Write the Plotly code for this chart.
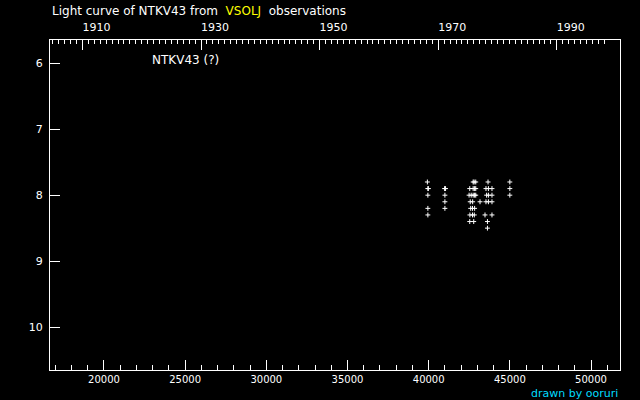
import pandas as pd
import plotly.graph_objects as go

# JD - 2400000 and visual magnitude of each VSOLJ estimate
jd_days = [
    39920, 39950, 39980, 39950, 39950, 39950,
    40980, 41040, 41000, 41000, 41000,
    42740, 42800, 42900,
    42530, 42740, 42830, 42900,
    42490, 42620, 42740, 42830, 42900,
    42560, 42710, 43163,
    42590, 42700, 42830,
    42540, 42700, 42810,
    42530, 42775,
    43656,
    43530, 43680, 43900,
    43570, 43680, 43900,
    43530, 43680, 43900,
    43470, 43900,
    43620,
    43620,
    45000, 45000, 45000,
]
magnitudes = [
    7.8, 7.9, 7.9, 8.0, 8.2, 8.3,
    7.9, 7.9, 8.0, 8.1, 8.2,
    7.8, 7.8, 7.8,
    7.9, 7.9, 7.9, 7.9,
    8.0, 8.0, 8.0, 8.0, 8.0,
    8.1, 8.1, 8.1,
    8.2, 8.2, 8.2,
    8.3, 8.3, 8.3,
    8.4, 8.4,
    7.8,
    7.9, 7.9, 7.9,
    8.0, 8.0, 8.0,
    8.1, 8.1, 8.1,
    8.3, 8.3,
    8.4,
    8.5,
    7.8, 7.9, 8.0,
]

jd_ticks = [20000, 25000, 30000, 35000, 40000, 45000, 50000]
mag_ticks = [6, 7, 8, 9, 10]
decades = [1910, 1920, 1930, 1940, 1950, 1960, 1970, 1980, 1990]
labelled_years = [1910, 1930, 1950, 1970, 1990]
years = list(range(1903, 1999))

jd_range = [16674, 51786]
mag_range = [10.652, 5.646]


def year_to_jd(year):
    return pd.Timestamp(year=year, month=1, day=1).to_julian_date() - 2400000


font = "DejaVu Sans"
fig = go.Figure()
fig.add_trace(
    go.Scatter(
        x=jd_days,
        y=magnitudes,
        mode="markers",
        marker=dict(symbol="cross-thin", size=3.5, color="white", line=dict(color="white", width=1)),
        showlegend=False,
    )
)
# invisible trace so the year axis is drawn
fig.add_trace(go.Scatter(x=jd_range, y=[8, 8], xaxis="x2", mode="lines", line=dict(width=0), showlegend=False, hoverinfo="skip"))

axis_common = dict(showgrid=False, zeroline=False, showline=True, linecolor="white", linewidth=1,
                   tickcolor="white", tickfont=dict(family=font, size=11, color="white"))
fig.update_layout(
    width=640,
    height=400,
    margin=dict(l=50, r=20, t=40, b=30),
    paper_bgcolor="black",
    plot_bgcolor="black",
    xaxis=dict(
        **axis_common,
        range=jd_range,
        tickmode="array",
        tickvals=jd_ticks,
        ticktext=[str(v) for v in jd_ticks],
        ticks="inside",
        ticklen=10,
        mirror=False,
        ticklabelstandoff=0,
        minor=dict(dtick=1000, tick0=0, ticks="inside", ticklen=5, tickcolor="white"),
    ),
    xaxis2=dict(
        **axis_common,
        overlaying="x",
        side="top",
        range=jd_range,
        tickmode="array",
        tickvals=[year_to_jd(y) for y in decades],
        ticktext=[str(y) if y in labelled_years else "" for y in decades],
        ticks="inside",
        ticklen=10,
        ticklabelshift=14,
        ticklabelstandoff=4,
        minor=dict(tickmode="array", tickvals=[year_to_jd(y) for y in years], ticks="inside", ticklen=4, tickcolor="white"),
    ),
    yaxis=dict(
        **axis_common,
        range=mag_range,
        tickmode="array",
        tickvals=mag_ticks,
        ticks="inside",
        ticklen=10,
        mirror=True,
        ticklabelstandoff=4,
    ),
)
fig.update_xaxes(tickfont_size=10, selector=dict(side="bottom"))
fig.layout.xaxis.tickfont.size = 10
fig.add_annotation(
    text="Light curve of NTKV43 from  <span style='color:yellow'>VSOLJ</span>  observations",
    xref="paper", yref="paper", x=0, y=1.088, xanchor="left", yanchor="middle",
    showarrow=False, font=dict(family=font, size=12, color="white"),
)
fig.add_annotation(
    text="NTKV43 (?)", xref="paper", yref="paper", x=0.175, y=0.939, xanchor="left", yanchor="middle",
    showarrow=False, font=dict(family=font, size=12, color="white"),
)
fig.add_annotation(
    text="drawn by ooruri", xref="paper", yref="paper", x=1, y=-0.07, xanchor="right", yanchor="middle",
    showarrow=False, font=dict(family=font, size=11, color="#00dcff"),
)
fig.write_html("out.html", config={"displayModeBar": False}, post_script="document.body.style.margin='0';")
